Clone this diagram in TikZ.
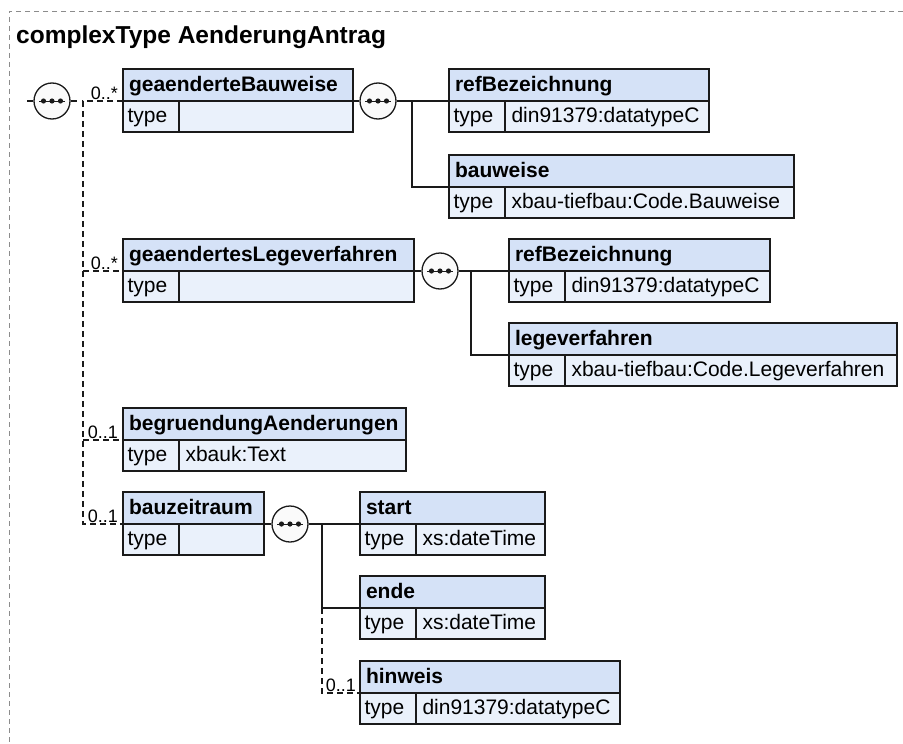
\documentclass[tikz,border=0pt]{standalone}
\usepackage{fontspec}
\setmainfont{Liberation Sans}
\usetikzlibrary{positioning}
\definecolor{Ink}{HTML}{1A1A1A}
\definecolor{HeadBlue}{HTML}{D5E2F7}
\definecolor{BodyBlue}{HTML}{EAF1FB}
\definecolor{FrameGray}{HTML}{8C8C8C}
\definecolor{Bubble}{HTML}{FAFAFA}
\tikzset{
  elemhead/.style={
    draw=Ink, line width=1.3pt, fill=HeadBlue, anchor=north west, outer sep=0pt,
    font=\fontsize{21}{21}\selectfont\bfseries, text width=#1, align=left,
    inner xsep=6pt, inner ysep=0pt, minimum height=32pt,
    text height=16pt, text depth=4pt
  },
  typekey/.style={
    draw=Ink, line width=1.3pt, fill=BodyBlue, anchor=north west, outer sep=0pt,
    font=\fontsize{21}{21}\selectfont, text width=47pt, align=left,
    inner xsep=4.5pt, inner ysep=0pt, minimum height=31pt,
    text height=16pt, text depth=4pt
  },
  typeval/.style={
    draw=Ink, line width=1.3pt, fill=BodyBlue, anchor=north west, outer sep=0pt,
    font=\fontsize{21}{21}\selectfont, text width=#1, align=left,
    inner xsep=6.5pt, inner ysep=0pt, minimum height=31pt,
    text height=16pt, text depth=4pt
  },
  seq/.style={
    circle, draw=Ink, line width=1.3pt, fill=Bubble, minimum size=36pt,
    inner sep=0pt,
    path picture={
      \draw[line width=1pt,Ink] ([xshift=-13pt]path picture bounding box.center)
        -- ([xshift=13pt]path picture bounding box.center);
      \foreach \dx in {-8.5,0,8.5}
        \fill[Ink] ([xshift=\dx pt]path picture bounding box.center) circle (2.6pt);
    }
  },
  mult/.style={font=\fontsize{18}{18}\selectfont, inner sep=1pt, anchor=south east},
  seqline/.style={line width=1.3pt, draw=Ink},
  optline/.style={line width=1.3pt, draw=Ink, dash pattern=on 6pt off 4pt},
  frame/.style={line width=1pt, draw=FrameGray, dash pattern=on 5pt off 4pt},
  title/.style={font=\fontsize{24.5}{24.5}\selectfont\bfseries, anchor=base west, inner sep=0pt}
}

\begin{document}
\begin{tikzpicture}[x=1pt,y=-1pt]
    \useasboundingbox (0,0) rectangle (903,744);
    \draw[frame] (903,11) -- (9,11) -- (9,744);
    \node[title] (ttl) at (16,43) {complexType AenderungAntrag};

    % root sequence
    \coordinate (in) at (27,101);
    \node[seq] (seq0) at (52,101) {};
    \coordinate (j0) at (83,101);

    % geaenderteBauweise
    \node[elemhead=218pt] (gb) at (123,69) {geaenderteBauweise};
    \node[typekey] (gb-k) at (gb.south west) {type};
    \node[typeval=161pt] (gb-v) at (gb-k.north east) {};
    \node[seq] (seq1) at (378,101) {};
    \coordinate (j1) at (412,101);
    \node[elemhead=248pt] (rb1) at (449,69) {refBezeichnung};
    \node[typekey] (rb1-k) at (rb1.south west) {type};
    \node[typeval=191pt] (rb1-v) at (rb1-k.north east) {din91379:datatypeC};
    \node[elemhead=333pt] (bw) at (449,155) {bauweise};
    \node[typekey] (bw-k) at (bw.south west) {type};
    \node[typeval=276pt] (bw-v) at (bw-k.north east) {xbau-tiefbau:Code.Bauweise};

    % geaendertesLegeverfahren
    \node[elemhead=279pt] (gl) at (123,239) {geaendertesLegeverfahren};
    \node[typekey] (gl-k) at (gl.south west) {type};
    \node[typeval=222pt] (gl-v) at (gl-k.north east) {};
    \node[seq] (seq2) at (440,271) {};
    \coordinate (j2) at (471,271);
    \node[elemhead=249pt] (rb2) at (509,239) {refBezeichnung};
    \node[typekey] (rb2-k) at (rb2.south west) {type};
    \node[typeval=192pt] (rb2-v) at (rb2-k.north east) {din91379:datatypeC};
    \node[elemhead=376pt] (lv) at (509,323) {legeverfahren};
    \node[typekey] (lv-k) at (lv.south west) {type};
    \node[typeval=319pt] (lv-v) at (lv-k.north east) {xbau-tiefbau:Code.Legeverfahren};

    % begruendungAenderungen
    \node[elemhead=271pt] (ba) at (123,408) {begruendungAenderungen};
    \node[typekey] (ba-k) at (ba.south west) {type};
    \node[typeval=214pt] (ba-v) at (ba-k.north east) {xbauk:Text};

    % bauzeitraum
    \node[elemhead=129pt] (bz) at (123,492) {bauzeitraum};
    \node[typekey] (bz-k) at (bz.south west) {type};
    \node[typeval=72pt] (bz-v) at (bz-k.north east) {};
    \node[seq] (seq3) at (290,524) {};
    \coordinate (j3) at (322,524);
    \node[elemhead=173pt] (st) at (360,492) {start};
    \node[typekey] (st-k) at (st.south west) {type};
    \node[typeval=116pt] (st-v) at (st-k.north east) {xs:dateTime};
    \node[elemhead=173pt] (en) at (360,576) {ende};
    \node[typekey] (en-k) at (en.south west) {type};
    \node[typeval=116pt] (en-v) at (en-k.north east) {xs:dateTime};
    \node[elemhead=248pt] (hw) at (360,661) {hinweis};
    \node[typekey] (hw-k) at (hw.south west) {type};
    \node[typeval=191pt] (hw-v) at (hw-k.north east) {din91379:datatypeC};

    % connectors
    \draw[optline] (in) -- (seq0);
    \draw[optline] (seq0) -- ([xshift=-6pt]j0);
    \draw[optline] (gb.south west) -- (j0) |- (bz.south west);
    \draw[optline] (gl.south west -| j0) -- (gl.south west);
    \draw[optline] (ba.south west -| j0) -- (ba.south west);
    \draw[seqline] (gb.south east) -- (seq1);
    \draw[seqline] (seq1) -- (rb1.south west);
    \draw[seqline] (j1) |- (bw.south west);
    \draw[seqline] (gl.south east) -- (seq2);
    \draw[seqline] (seq2) -- (rb2.south west);
    \draw[seqline] (j2) |- (lv.south west);
    \draw[seqline] (bz.south east) -- (seq3);
    \draw[seqline] (seq3) -- (st.south west);
    \draw[seqline] (j3) |- (en.south west);
    \draw[optline] (en.south west -| j3) |- (hw.south west);

    % multiplicities
    \node[mult] (gb-m) at ([xshift=-4pt]gb.south west) {0..*};
    \node[mult] (gl-m) at ([xshift=-4pt]gl.south west) {0..*};
    \node[mult] (ba-m) at ([xshift=-4pt]ba.south west) {0..1};
    \node[mult] (bz-m) at ([xshift=-4pt]bz.south west) {0..1};
    \node[mult] (hw-m) at ([xshift=-3pt]hw.south west) {0..1};
  \end{tikzpicture}
\end{document}
